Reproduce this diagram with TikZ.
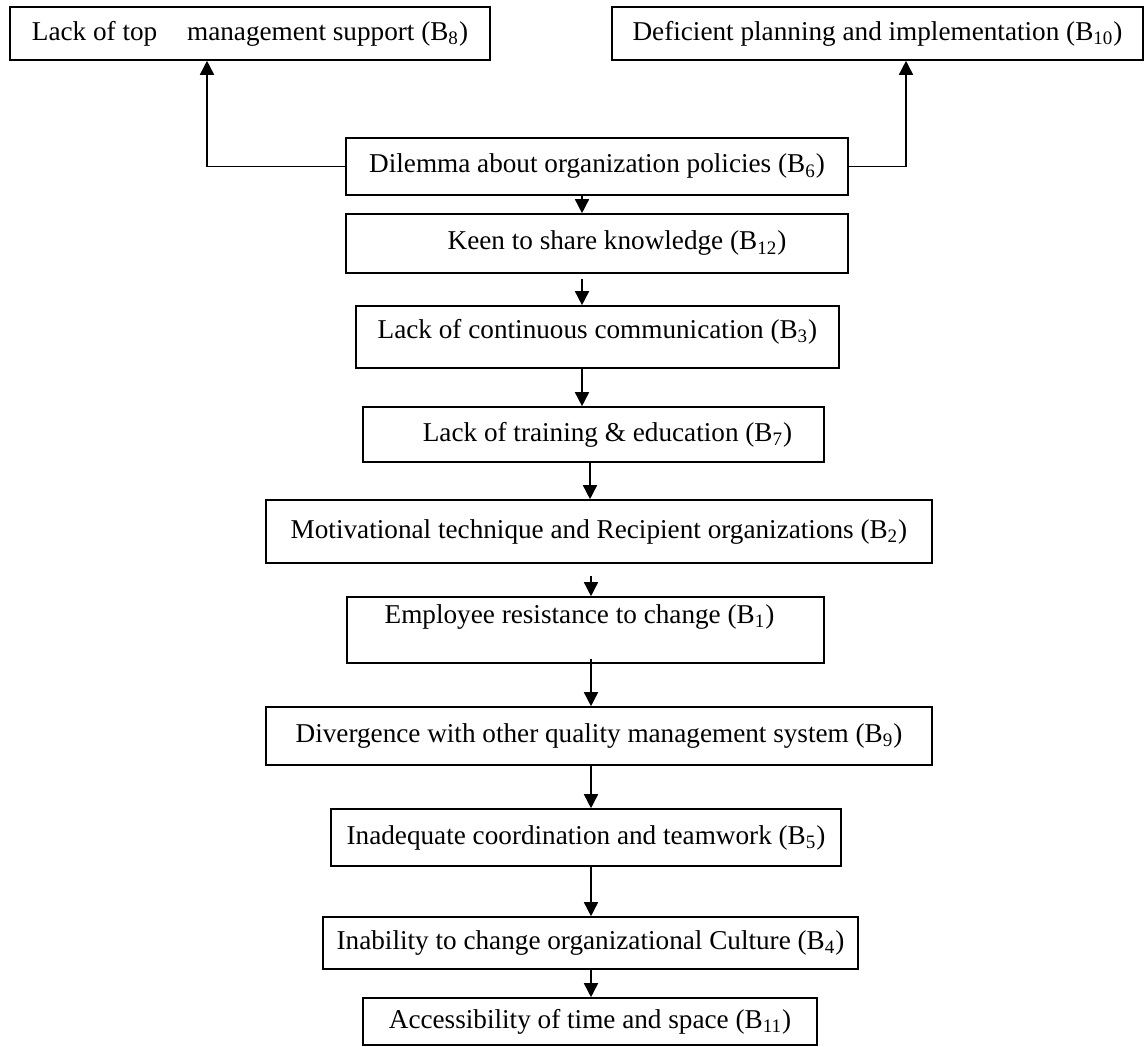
\documentclass[tikz,border=0pt]{standalone}
\usepackage{fontspec}
\setmainfont{Liberation Serif}
\usepackage{tikz}
\usetikzlibrary{shapes,arrows.meta}

\begin{document}
\begin{tikzpicture}[x=0.5pt, y=-0.5pt, font=\fontsize{13.6}{16}\selectfont]
    % Define styles
    \tikzstyle{barrier} = [rectangle, draw, line width=0.8pt, text centered, inner sep=0pt]
    \tikzstyle{arrow} = [line width=0.8pt, -{Triangle[length=7pt, width=7pt]}]

    \useasboundingbox (0,0) rectangle (1145,1047);

    % Barriers
    \node [barrier, minimum width=240pt, minimum height=26.5pt] (b8) at (250,33.5) {Lack of top\hspace{11.5pt} management support (B\textsubscript{8})};
    \node [barrier, minimum width=265.5pt, minimum height=26.5pt] (b10) at (877.5,33.5) {Deficient planning and implementation (B\textsubscript{10})};
    \node [barrier, minimum width=251pt, minimum height=28.5pt] (b6) at (597,166.5) {Dilemma about organization policies (B\textsubscript{6})};
    \node [barrier, minimum width=251pt, minimum height=29.5pt] (b12) at (597,243.5) {\hspace*{20pt}Keen to share knowledge (B\textsubscript{12})};
    \node [barrier, minimum width=241.5pt, minimum height=31pt] (b3) at (597.5,337) {\raisebox{2.5pt}[\height][\depth]{Lack of continuous communication (B\textsubscript{3})}};
    \node [barrier, minimum width=230.5pt, minimum height=27.5pt] (b7) at (593.5,434.5) {\hspace*{14pt}Lack of training \& education (B\textsubscript{7})};
    \node [barrier, minimum width=333pt, minimum height=31.5pt] (b2) at (599,531.5) {Motivational technique and Recipient organizations (B\textsubscript{2})};
    \node [barrier, minimum width=238.5pt, minimum height=33pt] (b1) at (585.5,630) {\raisebox{6.5pt}[\height][\depth]{Employee resistance to change (B\textsubscript{1})}\hspace*{6pt}};
    \node [barrier, minimum width=333pt, minimum height=29pt] (b9) at (599,736) {Divergence with other quality management system (B\textsubscript{9})};
    \node [barrier, minimum width=255pt, minimum height=28.5pt] (b5) at (586,837.5) {Inadequate coordination and teamwork (B\textsubscript{5})};
    \node [barrier, minimum width=267.5pt, minimum height=26pt] (b4) at (590.5,943) {Inability to change organizational Culture (B\textsubscript{4})};
    \node [barrier, minimum width=227pt, minimum height=23.5pt] (b11) at (590,1021.5) {Accessibility of time and space (B\textsubscript{11})};

    % Connections
    \draw [arrow] (b6.west) -| ([xshift=-21.5pt]b8.south);
    \draw [arrow] (b6.east) -| ([xshift=14.25pt]b10.south);
    \draw [arrow] ([xshift=-7.5pt]b6.south) -- ([xshift=-7.5pt]b12.north);
    \draw [arrow] ([xshift=-7.5pt, yshift=-2.5pt]b12.south) -- ([xshift=-7.75pt]b3.north);
    \draw [arrow] ([xshift=-7.75pt]b3.south) -- ([xshift=-5.75pt]b7.north);
    \draw [arrow] ([xshift=-1.75pt]b7.south) -- ([xshift=-4.5pt]b2.north);
    \draw [arrow] ([xshift=-4pt, yshift=-6pt]b2.south) -- ([xshift=2.75pt]b1.north);
    \draw [arrow] ([xshift=2.75pt, yshift=2.5pt]b1.south) -- ([xshift=-4pt]b9.north);
    \draw [arrow] ([xshift=-4pt]b9.south) -- ([xshift=2.5pt]b5.north);
    \draw [arrow] ([xshift=2.5pt]b5.south) -- ([xshift=0.25pt]b4.north);
    \draw [arrow] ([xshift=0.25pt]b4.south) -- ([xshift=0.5pt]b11.north);
\end{tikzpicture}
\end{document}
